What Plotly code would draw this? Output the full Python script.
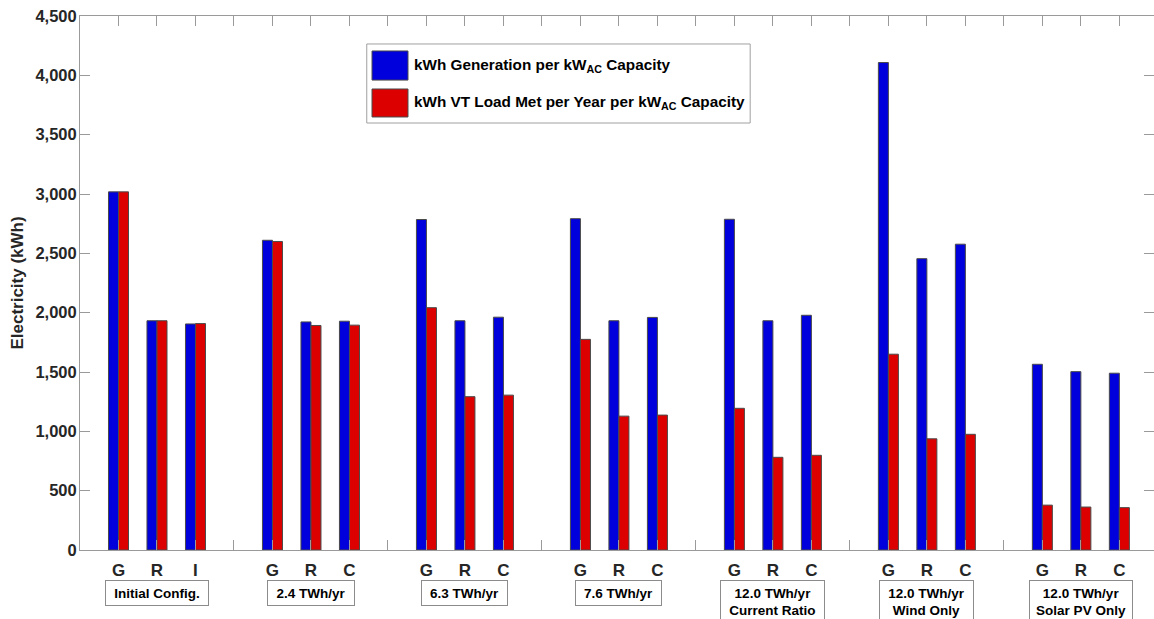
import plotly.graph_objects as go

# ---- data ----
groups = ["Initial Config.", "2.4 TWh/yr", "6.3 TWh/yr", "7.6 TWh/yr",
          "12.0 TWh/yr<br>Current Ratio", "12.0 TWh/yr<br>Wind Only",
          "12.0 TWh/yr<br>Solar PV Only"]
cat_labels = [["G", "R", "I"], ["G", "R", "C"], ["G", "R", "C"], ["G", "R", "C"],
              ["G", "R", "C"], ["G", "R", "C"], ["G", "R", "C"]]
generation = [3018, 1932, 1905,
              2610, 1922, 1928,
              2785, 1932, 1962,
              2792, 1932, 1960,
              2787, 1932, 1978,
              4108, 2455, 2577,
              1565, 1503, 1490]
load_met = [3018, 1932, 1908,
            2600, 1892, 1895,
            2042, 1292, 1305,
            1775, 1128, 1137,
            1194, 781, 798,
            1650, 937, 975,
            378, 362, 357]
series_names = ["kWh Generation per kW<sub>AC</sub> Capacity",
                "kWh VT Load Met per Year per kW<sub>AC</sub> Capacity"]
y_ticks = [0, 500, 1000, 1500, 2000, 2500, 3000, 3500, 4000, 4500]

# ---- style ----
BLUE = "#0000DC"
RED = "#DC0000"
EDGE = "#4a4a4a"
AX = "#9a9a9a"
TXT = "#262626"
FONT = "Liberation Sans, Arial, sans-serif"
box_widths = [100, 84, 83, 83, 101, 91, 100]
box_heights = [22, 22, 22, 22, 40, 40, 40]

slot = 4
positions = [slot * g + i for g in range(len(groups)) for i in range(3)]
tick_labels = [lab for labs in cat_labels for lab in labs]
minor_ticks = list(range(-1, slot * len(groups) - 1))

fig = go.Figure()
fig.add_trace(go.Bar(x=positions, y=generation, name=series_names[0],
                     marker=dict(color=BLUE, line=dict(color=EDGE, width=1))))
fig.add_trace(go.Bar(x=positions, y=load_met, name=series_names[1],
                     marker=dict(color=RED, line=dict(color=EDGE, width=1))))

fig.update_layout(
    width=1154, height=619,
    margin=dict(l=80, r=0, t=16, b=69),
    plot_bgcolor="white", paper_bgcolor="white",
    barmode="group", bargap=0.48, bargroupgap=0,
    showlegend=False,
    font=dict(family=FONT, color=TXT, size=15, weight="bold"),
)
fig.update_xaxes(
    range=[-1, slot * len(groups) - 1.1],
    tickmode="array", tickvals=positions, ticktext=tick_labels,
    ticks="inside", ticklen=10, tickcolor=AX, tickwidth=1,
    minor=dict(tickvals=minor_ticks, ticks="inside", ticklen=10, tickcolor=AX, tickwidth=1,
               showgrid=False),
    tickfont=dict(size=17, family=FONT, color=TXT, weight="bold"),
    ticklabelstandoff=5,
    showline=True, linecolor=AX, linewidth=1, mirror="ticks",
    showgrid=False, zeroline=False,
)
fig.update_yaxes(
    range=[0, 4500],
    tickmode="array", tickvals=y_ticks, tickformat=",",
    ticks="inside", ticklen=10, tickcolor=AX, tickwidth=1,
    tickfont=dict(size=16.5, family=FONT, color=TXT, weight="bold"),
    ticklabelstandoff=-1,
    showline=True, linecolor=AX, linewidth=1, mirror="ticks",
    showgrid=False, zeroline=False,
    title=dict(text="Electricity (kWh)", font=dict(size=17, family=FONT, color=TXT, weight="bold"),
               standoff=7),
)

# group label boxes
for g, name in enumerate(groups):
    fig.add_annotation(
        x=slot * g + 1, xref="x", y=-0.0562, yref="paper",
        xanchor="center", yanchor="top",
        text=name, showarrow=False,
        font=dict(size=13.5, family=FONT, color="black", weight="bold"),
        bordercolor="#8c8c8c", borderwidth=1, borderpad=1,
        bgcolor="white", width=box_widths[g], height=box_heights[g],
        align="center",
    )

# custom legend (large swatches like the original)
fig.add_shape(type="rect", xref="paper", yref="paper",
              x0=0.267, x1=0.624, y0=0.7996, y1=0.9476,
              line=dict(color="#a0a0a0", width=1), fillcolor="white", layer="above")
swatches = [(BLUE, 0.9345, 0.880), (RED, 0.8633, 0.8109)]
for (col, y1, y0), name in zip(swatches, series_names):
    fig.add_shape(type="rect", xref="paper", yref="paper",
                  x0=0.2719, x1=0.3054, y0=y0, y1=y1,
                  line=dict(color=EDGE, width=1), fillcolor=col, layer="above")
    fig.add_annotation(x=0.3091, y=(y0 + y1) / 2, xref="paper", yref="paper",
                       xanchor="left", yanchor="middle", showarrow=False,
                       text=name, font=dict(size=15.3, family=FONT, color="black", weight="bold"))

fig.write_html("out.html", config={"displayModeBar": False},
               post_script="document.body.style.margin='0';document.body.style.padding='0';")
